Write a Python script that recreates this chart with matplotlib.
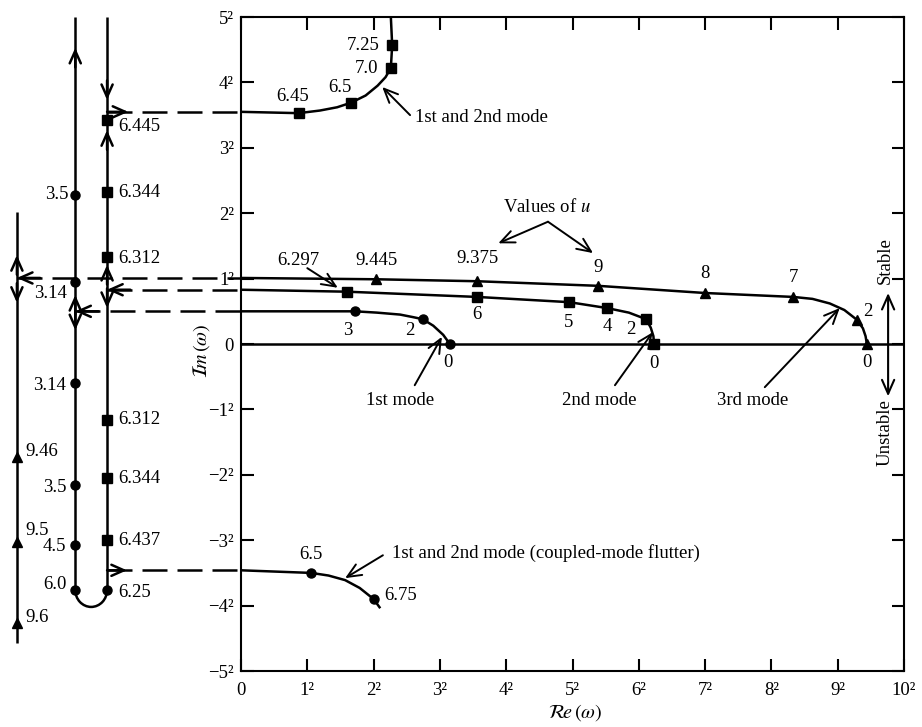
import matplotlib
matplotlib.use("Agg")
import matplotlib.pyplot as plt
from matplotlib.patches import Arc

plt.rcParams['font.family'] = ['Liberation Serif', 'DejaVu Serif']
plt.rcParams['mathtext.fontset'] = 'stix'

# Root loci of omega on root-scaled axes (axis position k is labelled k^2).
# 1st mode (circles)
mode1_u = ['3', '2', '0']
mode1_re = [1.72, 2.74, 3.15]
mode1_im = [0.50, 0.38, 0.0]
mode1_path_re = [0.0, 1.72, 2.05, 2.40, 2.60, 2.74, 2.90, 3.05, 3.15]
mode1_path_im = [0.50, 0.50, 0.48, 0.45, 0.41, 0.38, 0.28, 0.14, 0.0]

# 2nd mode (squares)
mode2_u = ['6.297', '6', '5', '4', '2', '0']
mode2_re = [1.60, 3.56, 4.95, 5.52, 6.11, 6.23]
mode2_im = [0.80, 0.72, 0.64, 0.55, 0.38, 0.0]
mode2_path_re = [0.0, 1.60, 3.56, 4.95, 5.52, 5.85, 6.11, 6.18, 6.22, 6.23]
mode2_path_im = [0.83, 0.80, 0.72, 0.64, 0.55, 0.48, 0.38, 0.25, 0.12, 0.0]

# 3rd mode (triangles)
mode3_u = ['9.445', '9.375', '9', '8', '7', '2', '0']
mode3_re = [2.04, 3.56, 5.38, 7.00, 8.33, 9.29, 9.44]
mode3_im = [0.99, 0.96, 0.89, 0.78, 0.72, 0.37, 0.0]
mode3_path_re = [0.0, 2.04, 3.56, 5.38, 7.00, 8.33, 8.62, 8.88, 9.10,
                 9.29, 9.38, 9.42, 9.44]
mode3_path_im = [1.01, 0.99, 0.96, 0.89, 0.78, 0.72, 0.69, 0.62, 0.52,
                 0.37, 0.24, 0.12, 0.0]

# merged 1st/2nd mode, stable branch (squares)
merged_up_u = ['6.45', '6.5', '7.0', '7.25']
merged_up_re = [0.87, 1.66, 2.26, 2.28]
merged_up_im = [3.53, 3.69, 4.22, 4.57]
merged_up_path_re = [0.0, 0.87, 1.19, 1.45, 1.66, 1.88, 2.06, 2.18, 2.26,
                     2.28, 2.26]
merged_up_path_im = [3.55, 3.53, 3.57, 3.62, 3.69, 3.80, 3.95, 4.08, 4.22,
                     4.57, 5.0]

# coupled-mode flutter branch (circles)
flutter_u = ['6.5', '6.75']
flutter_re = [1.06, 2.00]
flutter_im = [-3.50, -3.90]
flutter_path_re = [0.0, 1.06, 1.32, 1.57, 1.79, 2.00, 2.10]
flutter_path_im = [-3.46, -3.50, -3.54, -3.61, -3.73, -3.90, -4.04]

# purely imaginary roots (Re = 0), drawn as columns left of the plot
imag3_u = ['9.46', '9.5', '9.6']
imag3_im = [-1.73, -3.03, -4.27]
imag3_span = [2.02, -4.57]
imag1_u = ['3.5', '3.14', '3.14', '3.5', '4.5', '6.0']
imag1_im = [2.28, 0.95, -0.60, -2.16, -3.07, -3.76]
imag2_u = ['6.445', '6.344', '6.312', '6.312', '6.344', '6.437']
imag2_im = [3.43, 2.32, 1.33, -1.16, -2.05, -3.00]
merge_u = '6.25'
merge_im = -3.76
imag12_top = 5.0

x_ticks = list(range(0, 11))
x_ticklabels = ['0'] + [f'{k}\u00b2' for k in range(1, 11)]
y_ticks = list(range(-5, 6))
y_ticklabels = [f'\u2212{-k}\u00b2' for k in range(-5, 0)] + ['0'] + [f'{k}\u00b2' for k in range(1, 6)]

FS = 13.5
LW = 1.8
K = 'black'

fig = plt.figure(figsize=(9.22, 7.27), dpi=100)
ax = fig.add_axes([0.2614, 0.0770, 0.7191, 0.8996])
ax.set_xlim(0, 10)
ax.set_ylim(-5, 5)
for s in ax.spines.values():
    s.set_linewidth(1.5)
ax.set_xticks(x_ticks)
ax.set_xticklabels(x_ticklabels)
ax.set_yticks(y_ticks)
ax.set_yticklabels(y_ticklabels)
ax.tick_params(direction='in', length=9, width=1.5, top=True, right=True,
               labelsize=FS)
ax.tick_params(axis='x', pad=8)
ax.tick_params(axis='y', pad=5)

ax.axhline(0, color=K, lw=LW)

ax.text(0.504, -0.064, r'$\mathcal{R}\!e\,(\omega)$', transform=ax.transAxes,
        ha='center', va='center', fontsize=FS + 1)
ax.text(-0.060, 0.49, r'$\mathcal{I}\!m\,(\omega)$', transform=ax.transAxes,
        ha='center', va='center', rotation=90, fontsize=FS + 1)


def curve(xs, ys):
    ax.plot(xs, ys, color=K, lw=LW, clip_on=False, solid_capstyle='butt',
            solid_joinstyle='round')


def marks(xs, ys, m, ms):
    ax.plot(xs, ys, ls='none', marker=m, ms=ms, color=K, clip_on=False,
            zorder=5)


def label(txt, xy, off, ha='center'):
    ax.annotate(txt, xy, xytext=off, textcoords='offset pixels', ha=ha,
                va='center', fontsize=FS, annotation_clip=False)


def arrow(tip, tail, lw=1.5, hl=0.45, hw=0.2):
    ax.annotate('', xy=tip, xytext=tail, annotation_clip=False,
                arrowprops=dict(arrowstyle=f'->,head_length={hl},head_width={hw}',
                                lw=lw, color=K, shrinkA=0, shrinkB=0,
                                mutation_scale=20))


def note(txt, pos, tip, tail, ha='center'):
    ax.text(pos[0], pos[1], txt, ha=ha, va='center', fontsize=FS)
    arrow(tip, tail, lw=1.4, hl=0.5, hw=0.22)


# ---- complex loci ----
curve(mode1_path_re, mode1_path_im)
marks(mode1_re, mode1_im, 'o', 6.5)
for t, x, y, o in zip(mode1_u, mode1_re, mode1_im,
                      [(-7, -19), (-13, -11), (-2, -18)]):
    label(t, (x, y), o)

curve(mode2_path_re, mode2_path_im)
marks(mode2_re, mode2_im, 's', 7)
for t, x, y, o in zip(mode2_u[1:], mode2_re[1:], mode2_im[1:],
                      [(0, -18), (-1, -20), (0, -18), (-15, -10), (0, -19)]):
    label(t, (x, y), o)

curve(mode3_path_re, mode3_path_im)
marks(mode3_re, mode3_im, '^', 7.5)
for t, x, y, o in zip(mode3_u, mode3_re, mode3_im,
                      [(0, 19), (0, 23), (0, 18), (0, 20), (0, 19), (11, 8),
                       (0, -18)]):
    label(t, (x, y), o)

curve(merged_up_path_re, merged_up_path_im)
marks(merged_up_re, merged_up_im, 's', 7)
for t, x, y, o in zip(merged_up_u, merged_up_re, merged_up_im,
                      [(-6, 17), (-11, 15), (-24, 0), (-29, 0)]):
    label(t, (x, y), o)

curve(flutter_path_re, flutter_path_im)
marks(flutter_re, flutter_im, 'o', 6.5)
label(flutter_u[0], (flutter_re[0], flutter_im[0]), (0, 18))
label(flutter_u[1], (flutter_re[1], flutter_im[1]), (11, 4), ha='left')

# ---- annotations ----
note(mode2_u[0], (0.86, 1.28), (mode2_re[0] - 0.14, mode2_im[0] + 0.06), (1.0, 1.16))
note('1st and 2nd mode', (2.62, 3.46), (2.13, 3.93), (2.55, 3.50), ha='left')
ax.text(4.62, 2.09, r'Values of $u$', ha='center', va='center', fontsize=FS)
arrow((3.88, 1.54), (4.63, 1.87), lw=1.4, hl=0.5, hw=0.22)
arrow((5.31, 1.39), (4.63, 1.87), lw=1.4, hl=0.5, hw=0.22)
note('1st mode', (2.40, -0.86), (3.03, 0.11), (2.62, -0.63))
note('2nd mode', (5.41, -0.86), (6.21, 0.18), (5.64, -0.63))
note('3rd mode', (7.71, -0.86), (9.03, 0.55), (7.90, -0.66))
note('1st and 2nd mode (coupled-mode flutter)', (2.28, -3.20), (1.57, -3.58),
     (2.14, -3.23), ha='left')

ax.annotate('', xy=(9.76, 0.78), xytext=(9.76, -0.80), annotation_clip=False,
            arrowprops=dict(arrowstyle='<->,head_length=0.5,head_width=0.22',
                            lw=1.5, color=K, shrinkA=0, shrinkB=0,
                            mutation_scale=20))
ax.text(9.71, 1.28, 'Stable', rotation=90, ha='center', va='center', fontsize=FS)
ax.text(9.71, -1.36, 'Unstable', rotation=90, ha='center', va='center', fontsize=FS)

# ---- purely imaginary branches ----
XL, XM, XR = -3.38, -2.50, -2.02
curve([XL, XL], imag3_span)
curve([XM, XM], [imag12_top, merge_im])
curve([XR, XR], [imag12_top, merge_im])
ax.add_patch(Arc(((XM + XR) / 2, merge_im), XR - XM, 0.52, theta1=180,
                 theta2=360, lw=LW, color=K, clip_on=False))

marks([XL] * len(imag3_im), imag3_im, '^', 7.5)
for t, y, o in zip(imag3_u, imag3_im, [(8, 6), (8, 12), (8, 6)]):
    label(t, (XL, y), o, ha='left')

marks([XM] * len(imag1_im), imag1_im, 'o', 6.5)
for t, y, o in zip(imag1_u, imag1_im,
                   [(-7, 0), (-8, -12), (-9, -2), (-9, -2), (-9, -2), (-9, 5)]):
    label(t, (XM, y), o, ha='right')

marks([XR] * len(imag2_im), imag2_im, 's', 7)
for t, y, o in zip(imag2_u, imag2_im,
                   [(11, -7), (11, 0), (11, -1), (11, 0), (11, 0), (11, 0)]):
    label(t, (XR, y), o, ha='left')
marks([XR], [merge_im], 'o', 6.5)
label(merge_u, (XR, merge_im), (11, -3), ha='left')

# dashed connectors between the imaginary-axis branches and the loci
DASH = (0, (10, 4))
for x0, y in [(XL, mode3_path_im[0]), (XR, mode2_path_im[0]),
              (XM, mode1_path_im[0]), (XR, merged_up_path_im[0]),
              (XR, flutter_path_im[0])]:
    ax.plot([x0, 0], [y, y], color=K, lw=LW, ls=DASH, clip_on=False)

arrow((XL, mode3_path_im[0]), (XL + 0.35, mode3_path_im[0]), lw=LW)
arrow((XR, mode2_path_im[0]), (XR + 0.35, mode2_path_im[0]), lw=LW)
arrow((XM, mode1_path_im[0]), (XM + 0.35, mode1_path_im[0]), lw=LW)
arrow((-1.70, merged_up_path_im[0]), (XR, merged_up_path_im[0]), lw=LW)
arrow((-1.72, flutter_path_im[0]), (XR, flutter_path_im[0]), lw=LW)

# direction chevrons along the columns
for x, tip, d in [(XM, 4.53, 1), (XM, 0.75, 1), (XM, 0.21, -1),
                  (XR, 3.73, -1), (XR, 3.27, 1), (XR, 1.21, 1), (XR, 0.55, -1),
                  (XL, 1.36, 1), (XL, 0.63, -1)]:
    arrow((x, tip), (x, tip - 0.3 * d), lw=LW)

fig.savefig('out.png', dpi=100)
